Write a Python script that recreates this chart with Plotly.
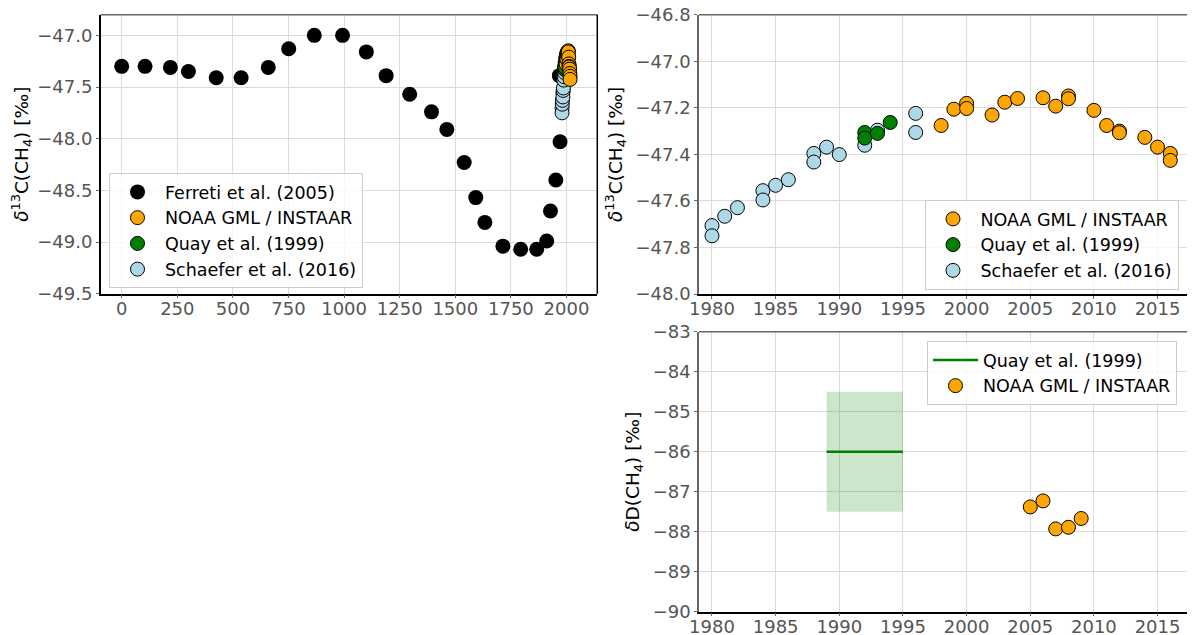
import plotly.graph_objects as go

# ---------------- data ----------------
ferretti_year = [0, 105, 219, 300, 425, 537, 659, 751, 866, 993, 1100, 1189, 1295,
                 1393, 1462, 1540, 1592, 1633, 1714, 1794, 1866, 1911, 1928, 1952,
                 1968, 1971]
ferretti_d13c = [-47.30, -47.30, -47.31, -47.35, -47.41, -47.41, -47.31, -47.13,
                 -47.00, -47.00, -47.16, -47.39, -47.57, -47.74, -47.91, -48.23,
                 -48.57, -48.81, -49.04, -49.07, -49.07, -48.99, -48.70, -48.40,
                 -47.39, -48.03]

schaefer_year = [1980, 1980, 1981, 1982, 1984, 1984, 1985, 1986, 1988, 1988, 1989,
                 1990, 1992, 1993, 1996, 1996]
schaefer_d13c = [-47.706, -47.750, -47.666, -47.629, -47.556, -47.596, -47.533,
                 -47.509, -47.396, -47.433, -47.369, -47.401, -47.361, -47.296,
                 -47.224, -47.306]

quay_year = [1992, 1992, 1993, 1994]
quay_d13c = [-47.306, -47.330, -47.310, -47.263]

noaa_year = [1998, 1999, 2000, 2000, 2002, 2003, 2004, 2006, 2007, 2008, 2008,
             2010, 2011, 2012, 2012, 2014, 2015, 2016, 2016]
noaa_d13c = [-47.276, -47.206, -47.181, -47.203, -47.231, -47.176, -47.160,
             -47.157, -47.193, -47.149, -47.161, -47.211, -47.276, -47.300,
             -47.307, -47.327, -47.369, -47.396, -47.426]

noaa_dD_year = [2005, 2006, 2007, 2008, 2009]
noaa_dD = [-87.38, -87.23, -87.93, -87.89, -87.67]

quay_dD_years = [1989, 1995]
quay_dD_mean = -86.0
quay_dD_low = -87.5
quay_dD_high = -84.5

left_xticks = [0, 250, 500, 750, 1000, 1250, 1500, 1750, 2000]
left_yticks = [-49.5, -49.0, -48.5, -48.0, -47.5, -47.0]
right_xticks = [1980, 1985, 1990, 1995, 2000, 2005, 2010, 2015]
top_right_yticks = [-48.0, -47.8, -47.6, -47.4, -47.2, -47.0, -46.8]
bottom_right_yticks = [-90, -89, -88, -87, -86, -85, -84, -83]

# ---------------- styling ----------------
OFF = 8  # page body margin
W, H = 1195 - OFF, 635 - OFF
def fx(px):
    return (px - OFF) / W
def fy(py):
    return 1 - (py - OFF) / H

FONT = "DejaVu Sans"
TICK_COLOR = "#555555"
GRID = "#dcdcdc"
SPINE_GREY = "#666666"
MS = 14

fig = go.Figure()

def pts(x, y, name, color, xa, ya, leg, rank, show=True, edge=True, size=MS):
    fig.add_trace(go.Scatter(
        x=x, y=y, mode="markers", name=name,
        marker=dict(color=color, size=size,
                    line=dict(color="black", width=1 if edge else 0)),
        xaxis=xa, yaxis=ya, legend=leg, legendrank=rank,
        legendgroup=f"{leg}-{rank}", showlegend=show))

# Left panel
pts(ferretti_year, ferretti_d13c, "Ferreti et al. (2005)", "black", "x", "y", "legend", 1,
    edge=False, size=15)
pts(schaefer_year, schaefer_d13c, "Schaefer et al. (2016)", "#ADD8E6", "x", "y", "legend", 4)
pts(quay_year, quay_d13c, "Quay et al. (1999)", "#008000", "x", "y", "legend", 3)
pts(noaa_year, noaa_d13c, "NOAA GML / INSTAAR", "#FFA500", "x", "y", "legend", 2)

# Top-right panel
pts(schaefer_year, schaefer_d13c, "Schaefer et al. (2016)", "#ADD8E6", "x2", "y2", "legend2", 3)
pts(quay_year, quay_d13c, "Quay et al. (1999)", "#008000", "x2", "y2", "legend2", 2)
pts(noaa_year, noaa_d13c, "NOAA GML / INSTAAR", "#FFA500", "x2", "y2", "legend2", 1)

# Bottom-right panel
fig.add_trace(go.Scatter(
    x=[quay_dD_years[0], quay_dD_years[1], quay_dD_years[1], quay_dD_years[0], quay_dD_years[0]],
    y=[quay_dD_low, quay_dD_low, quay_dD_high, quay_dD_high, quay_dD_low],
    mode="lines", fill="toself", fillcolor="rgba(0,128,0,0.2)",
    line=dict(width=0), hoverinfo="skip", showlegend=False,
    xaxis="x3", yaxis="y3"))
fig.add_trace(go.Scatter(
    x=quay_dD_years, y=[quay_dD_mean, quay_dD_mean], mode="lines",
    name="Quay et al. (1999)", line=dict(color="#008000", width=2.5),
    xaxis="x3", yaxis="y3", legend="legend3", legendrank=1, legendgroup="l3-1"))
pts(noaa_dD_year, noaa_dD, "NOAA GML / INSTAAR", "#FFA500", "x3", "y3", "legend3", 2)

common = dict(showgrid=True, gridcolor=GRID, gridwidth=1, zeroline=False,
              ticks="outside", ticklen=3, tickwidth=1, tickcolor=SPINE_GREY,
              tickfont=dict(size=18, color=TICK_COLOR, family=FONT),
              showline=True, linewidth=1.5, ticklabeloverflow="allow")
xcommon = dict(common, ticklabelstandoff=-5)
ytitle_font = dict(size=18.5, color="black", family=FONT)
d13c_title = "<i>δ</i><sup>13</sup>C(CH<sub>4</sub>) [‰]"
dD_title = "<i>δ</i>D(CH<sub>4</sub>) [‰]"

right_xrange = [1978.98, 2017.94]

legend_style = dict(bgcolor="rgba(255,255,255,0.8)", bordercolor="#cccccc",
                    borderwidth=1, font=dict(size=17.5, color="black", family=FONT),
                    xanchor="left", yanchor="top", tracegroupgap=0,
                    traceorder="grouped", itemwidth=45)

fig.update_layout(
    width=W, height=H,
    margin=dict(l=0, r=0, t=0, b=0, autoexpand=False),
    paper_bgcolor="white", plot_bgcolor="white",
    font=dict(family=FONT, size=18, color="black"),
    xaxis=dict(xcommon, domain=[fx(100.7), fx(597.3)], range=[-94.4, 2138.5],
               tickvals=left_xticks, linecolor="black", anchor="y"),
    yaxis=dict(common, domain=[fy(293.7), fy(14.7)], range=[-49.5, -46.80],
               tickvals=left_yticks, tickformat=".1f", linecolor="black", anchor="x",
               title=dict(text=d13c_title, font=ytitle_font, standoff=8)),
    xaxis2=dict(xcommon, domain=[fx(699), 1.0], range=right_xrange,
                tickvals=right_xticks, linecolor="black", anchor="y2"),
    yaxis2=dict(common, domain=[fy(294), fy(14.7)], range=[-48.0, -46.8],
                tickvals=top_right_yticks, tickformat=".1f", linecolor=SPINE_GREY,
                anchor="x2", title=dict(text=d13c_title, font=ytitle_font, standoff=8)),
    xaxis3=dict(xcommon, domain=[fx(699), 1.0], range=right_xrange,
                tickvals=right_xticks, linecolor="black", anchor="y3"),
    yaxis3=dict(common, domain=[fy(611.7), fy(331.7)], range=[-90, -83],
                tickvals=bottom_right_yticks, linecolor=SPINE_GREY, anchor="x3",
                title=dict(text=dD_title, font=ytitle_font, standoff=8)),
    legend=dict(legend_style, x=fx(109), y=fy(173)),
    legend2=dict(legend_style, x=fx(924.5), y=fy(200)),
    legend3=dict(legend_style, x=fx(927), y=fy(341)),
    shapes=[
        dict(type="line", xref="x domain", yref="y domain", x0=0, x1=1, y0=1, y1=1,
             line=dict(color=SPINE_GREY, width=1.5)),
        dict(type="line", xref="x domain", yref="y domain", x0=1, x1=1, y0=0, y1=1,
             line=dict(color="black", width=1.5)),
        dict(type="line", xref="x2 domain", yref="y2 domain", x0=0, x1=1, y0=1, y1=1,
             line=dict(color=SPINE_GREY, width=1.5)),
        dict(type="line", xref="x3 domain", yref="y3 domain", x0=0, x1=1, y0=1, y1=1,
             line=dict(color=SPINE_GREY, width=1.5)),
    ],
    showlegend=True,
)

fig.write_html("out.html")
